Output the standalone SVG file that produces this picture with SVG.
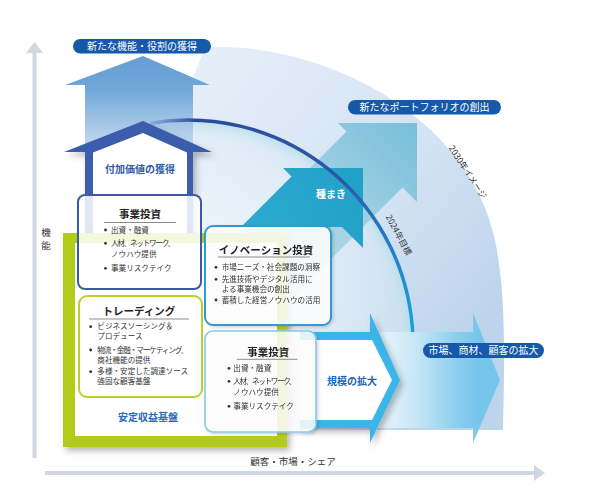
<svg xmlns="http://www.w3.org/2000/svg" width="590" height="504" viewBox="0 0 590 504">
<defs>
<style>
text{font-family:'Noto Sans CJK JP','Noto Sans',sans-serif;}
.ttl{font-size:10.5px;font-weight:700;fill:#222;text-anchor:middle}
.bl{font-size:7.6px;fill:#333}
.pill{font-size:10px;fill:#fff;text-anchor:middle}
.lbl{font-size:10px;font-weight:700;text-anchor:middle}
.ul{stroke:#8c8c8c;stroke-width:1}
.dot{fill:#333}
.ax{font-size:9.5px;fill:#333}
.box{fill:#fff;fill-opacity:0.85}
.pl{fill:#1559a8}
</style>
<clipPath id="cpOuter"><path d="M205,47 C330,42 470,120 495,240 C505,290 505,340 503,430 L100,430 L100,150 L190,85 Z"/></clipPath>
<linearGradient id="gOuter" gradientUnits="userSpaceOnUse" x1="200" y1="60" x2="500" y2="300">
<stop offset="0" stop-color="#e6eef8"/><stop offset="0.6" stop-color="#d3e3f3"/><stop offset="1" stop-color="#bdd4ec"/></linearGradient>
<radialGradient id="gInner" gradientUnits="userSpaceOnUse" cx="188" cy="345" r="225">
<stop offset="0" stop-color="#fff" stop-opacity="0.8"/><stop offset="0.7" stop-color="#fff" stop-opacity="0.3"/><stop offset="0.93" stop-color="#dcedf5" stop-opacity="0.35"/><stop offset="1" stop-color="#b5dced" stop-opacity="0.85"/></radialGradient>
<linearGradient id="gUp" gradientUnits="userSpaceOnUse" x1="0" y1="56" x2="0" y2="150">
<stop offset="0" stop-color="#659ed4"/><stop offset="0.35" stop-color="#70a7d9"/><stop offset="1" stop-color="#cbddf0"/></linearGradient>
<linearGradient id="gPort" gradientUnits="userSpaceOnUse" x1="260" y1="280" x2="417" y2="123">
<stop offset="0" stop-color="#c2e1ec"/><stop offset="0.5" stop-color="#a0d0e3"/><stop offset="1" stop-color="#77bed9"/></linearGradient>
<linearGradient id="gSeed" gradientUnits="userSpaceOnUse" x1="241" y1="227" x2="363" y2="168">
<stop offset="0" stop-color="#2eaacf"/><stop offset="1" stop-color="#21a0c8"/></linearGradient>
<linearGradient id="gArc" gradientUnits="userSpaceOnUse" x1="150" y1="123" x2="413" y2="335">
<stop offset="0" stop-color="#2d4a9a" stop-opacity="0.15"/><stop offset="0.1" stop-color="#2d4a9a"/><stop offset="0.55" stop-color="#2c5aa6"/><stop offset="1" stop-color="#1aa2dc"/></linearGradient>
<linearGradient id="gMkt" gradientUnits="userSpaceOnUse" x1="380" y1="0" x2="480" y2="0">
<stop offset="0" stop-color="#eaf6fc"/><stop offset="0.35" stop-color="#c9e8f7"/><stop offset="0.8" stop-color="#82ccee"/><stop offset="1" stop-color="#70c4eb"/></linearGradient>
<filter id="sh" x="-10%" y="-10%" width="130%" height="130%"><feDropShadow dx="3" dy="4" stdDeviation="3" flood-color="#000" flood-opacity="0.28"/></filter>
<filter id="shs" x="-10%" y="-10%" width="130%" height="130%"><feDropShadow dx="1.5" dy="1.5" stdDeviation="1.5" flood-color="#000" flood-opacity="0.18"/></filter>
</defs>

<g id="axes">
<line x1="34.5" y1="50" x2="34.5" y2="458" stroke="#d0d7e3" stroke-width="4"/>
<polygon points="26,53 34.5,42 43,53" fill="#d0d7e3"/>
<line x1="45" y1="473" x2="537" y2="473" stroke="#d0d7e3" stroke-width="4"/>
<polygon points="534,465 545,473 534,481" fill="#d0d7e3"/>
<text class="ax" x="46" y="236" text-anchor="middle">機</text>
<text class="ax" x="46" y="248.5" text-anchor="middle">能</text>
<text class="ax" x="293" y="465" text-anchor="middle">顧客・市場・シェア</text>
</g>

<g id="vision">
<g clip-path="url(#cpOuter)">
<rect x="0" y="0" width="590" height="504" fill="url(#gOuter)"/>
<circle cx="188" cy="345" r="225" fill="url(#gInner)"/>
</g>
<text transform="translate(468.5,171.5) rotate(57)" text-anchor="middle" dominant-baseline="central" font-size="8.5" fill="#333">2030年イメージ</text>
</g>

<g id="arrows">
<polygon points="143,56 210,85 193,85 193,160 85,160 85,85 65,85" fill="url(#gUp)"/>
<polygon points="417,123 417,202 402.5,187.5 295,295 239,239 346.5,131.5 338,123" fill="url(#gPort)"/>
<polygon points="363,168 363,248 342,227 241,227 291.5,176.5 283,168" fill="url(#gSeed)"/>
<path d="M150,123.2 A225,225 0 0 1 412.8,335" fill="none" stroke="url(#gArc)" stroke-width="3.5"/>
<polygon points="330,332 473,332 473,313 500,380 473,443 473,428 330,428" fill="url(#gMkt)" fill-opacity="0.92"/>
<g filter="url(#sh)">
<polygon points="300,332 370,332 370,313 400,380 370,443 370,428 300,428" fill="#3bb5e8"/>
<polygon points="300,340 372,340 392,380 372,420 300,420" fill="#fff"/>
</g>
<text class="lbl" x="331" y="197.5" fill="#fff" font-size="9.5">種まき</text>
<text class="lbl" x="352" y="384.5" fill="#1f64b0">規模の拡大</text>
<text transform="translate(399.5,234.5) rotate(62)" text-anchor="middle" dominant-baseline="central" font-size="8.5" fill="#333">2024年目標</text>
</g>

<g id="house" filter="url(#sh)">
<polygon points="143,121 212,152 193,152 193,240 85,240 85,152 64,152" fill="#3a5dab"/>
<polygon points="143,133 187,152.5 187,240 93,240 93,152.5" fill="#fff"/>
</g>
<text class="lbl" x="140" y="172.8" fill="#2f5aa6">付加価値の獲得</text>

<g id="base">
<g filter="url(#sh)">
<rect x="63" y="233" width="224" height="214" fill="#b3cc1c"/>
</g>
<rect x="75" y="243" width="202" height="193" fill="#fff"/>
<text class="lbl" x="148" y="420.5" fill="#2b6cc0">安定収益基盤</text>
</g>

<g id="invest-top">
<rect class="box" x="78" y="195" width="123" height="94" rx="7" stroke="#3d5aa6" stroke-width="2"/>
<text class="ttl" x="140" y="217.7">事業投資</text>
<line class="ul" x1="104" y1="222.5" x2="176" y2="222.5"/>
<circle class="dot" cx="105.5" cy="230" r="1.4"/><text class="bl" x="111" y="232.7">出資・融資</text>
<circle class="dot" cx="105.5" cy="243.3" r="1.4"/><text class="bl" x="111" y="246" textLength="64" lengthAdjust="spacing">人材、ネットワーク、</text>
<text class="bl" x="111" y="256.7">ノウハウ提供</text>
<circle class="dot" cx="105.5" cy="268.3" r="1.4"/><text class="bl" x="111" y="271">事業リスクテイク</text>
</g>

<g id="trading">
<rect class="box" x="79" y="296" width="123" height="101" rx="8" stroke="#b8d12b" stroke-width="2"/>
<text class="ttl" x="139" y="314.5">トレーディング</text>
<line class="ul" x1="89" y1="319" x2="189" y2="319"/>
<circle class="dot" cx="90.7" cy="326.7" r="1.4"/><text class="bl" x="97.3" y="329.4">ビジネスソーシング＆</text>
<text class="bl" x="97.3" y="339.4">プロデュース</text>
<circle class="dot" cx="90.7" cy="350" r="1.4"/><text class="bl" x="97.3" y="352.7" textLength="91" lengthAdjust="spacing">物流・金融・マーケティング、</text>
<text class="bl" x="97.3" y="362.7">商社機能の提供</text>
<circle class="dot" cx="90.7" cy="371.7" r="1.4"/><text class="bl" x="97.3" y="374.4">多様・安定した調達ソース</text>
<text class="bl" x="97.3" y="384.4">強固な顧客基盤</text>
</g>

<g id="innovation" filter="url(#shs)">
<rect class="box" x="205" y="226" width="126" height="99" rx="8" stroke="#2e9ccf" stroke-width="2"/>
<text class="ttl" x="266" y="254.3" font-size="10">イノベーション投資</text>
<line class="ul" x1="218" y1="257" x2="310" y2="257"/>
<circle class="dot" cx="216" cy="267.3" r="1.4"/><text class="bl" x="221.7" y="270">市場ニーズ・社会課題の洞察</text>
<circle class="dot" cx="216" cy="279.3" r="1.4"/><text class="bl" x="221.7" y="282">先進技術やデジタル活用に</text>
<text class="bl" x="221.7" y="292">よる事業機会の創出</text>
<circle class="dot" cx="216" cy="300" r="1.4"/><text class="bl" x="221.7" y="302.7">蓄積した経営ノウハウの活用</text>
</g>

<g id="invest-bottom" filter="url(#shs)">
<rect class="box" x="205" y="331" width="111" height="101" rx="8" stroke="#86c9ea" stroke-width="1.6"/>
<text class="ttl" x="268.3" y="356">事業投資</text>
<line class="ul" x1="236.7" y1="359.3" x2="297.3" y2="359.3"/>
<circle class="dot" cx="229" cy="368.3" r="1.4"/><text class="bl" x="233.3" y="371">出資・融資</text>
<circle class="dot" cx="229" cy="381.3" r="1.4"/><text class="bl" x="233.3" y="384" textLength="63" lengthAdjust="spacing">人材、ネットワーク、</text>
<text class="bl" x="233.3" y="394.5">ノウハウ提供</text>
<circle class="dot" cx="229" cy="406.3" r="1.4"/><text class="bl" x="233.3" y="409">事業リスクテイク</text>
</g>

<g id="pill-function">
<rect class="pl" x="73" y="39" width="138" height="14.5" rx="7.25"/>
<text class="pill" x="142" y="49.8">新たな機能・役割の獲得</text>
</g>
<g id="pill-portfolio">
<rect class="pl" x="348" y="100" width="153" height="14.5" rx="7.25"/>
<text class="pill" x="424.5" y="110.8">新たなポートフォリオの創出</text>
</g>
<g id="pill-market">
<rect class="pl" x="423" y="343" width="121" height="15" rx="7.5"/>
<text class="pill" x="483.5" y="354" font-size="9.5">市場、商材、顧客の拡大</text>
</g>
</svg>
